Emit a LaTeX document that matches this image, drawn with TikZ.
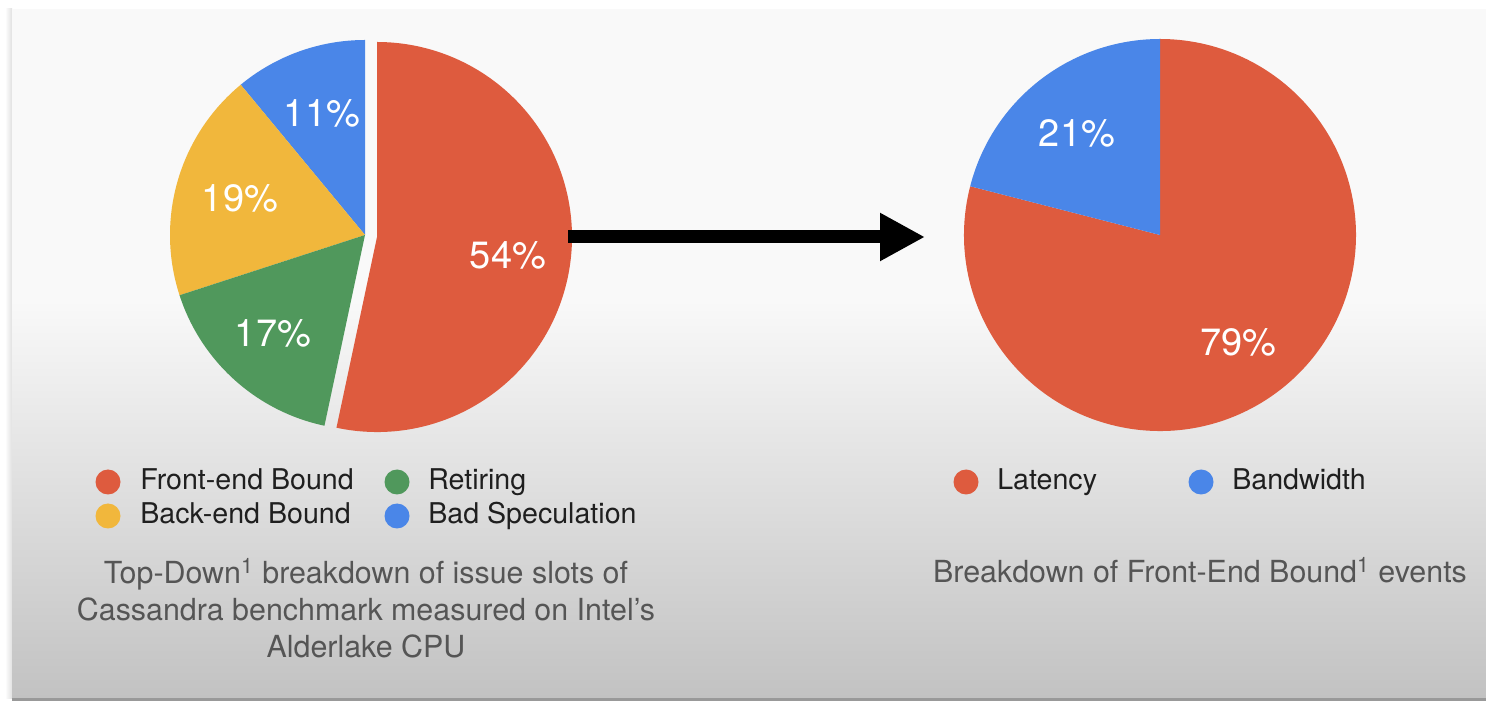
\documentclass[tikz,border=0pt]{standalone}
\usepackage{fontspec}
\setmainfont{TeX Gyre Heros}
\usetikzlibrary{arrows.meta}
\usetikzlibrary{positioning}
\definecolor{pred}{RGB}{222,91,62}
\definecolor{pblue}{RGB}{74,134,232}
\definecolor{pyellow}{RGB}{241,183,60}
\definecolor{pgreen}{RGB}{80,152,92}
\definecolor{slidetop}{RGB}{249,249,249}
\definecolor{slidebot}{RGB}{194,194,194}
\definecolor{capgray}{RGB}{85,85,85}
\tikzset{pct/.style = {text=white, inner sep=0, font=\fontsize{19}{22}\selectfont}}
\tikzset{legdot/.style = {circle, inner sep=0, minimum size=12.5pt}}
\tikzset{legtext/.style = {anchor=west, inner sep=0, text height=0.9em, text depth=0.18em, text=black!88, font=\fontsize{14.3}{17}\selectfont}}
\tikzset{caption/.style = {align=center, inner sep=0, text=capgray, font=\fontsize{15.2}{18.5}\selectfont}}

\begin{document}
\begin{tikzpicture}[x=0.5pt,y=0.5pt]
        \useasboundingbox (0,0) rectangle (1486,701);
        % slide background
        \fill[white] (0,0) rectangle (1486,701);
        \shade[left color=white, right color=black!12] (5,3) rectangle (12,692);
        \fill[slidetop] (12,3) rectangle (1486,692);
        \shade[top color=slidetop, bottom color=slidebot] (12,3) rectangle (1486,401);
        \fill[black!40] (12,0) rectangle (1486,3);
        % left pie
        \coordinate (lpie) at (365,466);
        \coordinate (lred) at (377,464);
        \fill[pblue] (lpie) -- ++(90:195) arc (90:129.6:195) -- cycle;
        \fill[pyellow] (lpie) -- ++(129.6:195) arc (129.6:198:195) -- cycle;
        \fill[pgreen] (lpie) -- ++(198:195) arc (198:258:195) -- cycle;
        \fill[pred] (lred) -- ++(-102:195) arc (-102:90:195) -- cycle;
        \node[pct] (bad) at (322,588) {11\%};
        \node[pct] (back) at (240,503) {19\%};
        \node[pct] (ret) at (273,368) {17\%};
        \node[pct] (front) at (508,446) {54\%};
        % right pie
        \coordinate (rpie) at (1160,466);
        \fill[pred] (rpie) -- ++(165.6:196) arc (165.6:450:196) -- cycle;
        \fill[pblue] (rpie) -- ++(90:196) arc (90:165.6:196) -- cycle;
        \node[pct] (bw) at (1077,568) {21\%};
        \node[pct] (lat) at (1238,359) {79\%};
        % arrow
        \coordinate (arrS) at (568,464);
        \coordinate (arrE) at (925,464);
        \draw[line width=6.5pt, -{Triangle[length=22.5pt,width=22.5pt]}] (arrS) -- (arrE);
        % legends
        \node[legdot, fill=pred] (dfront) at (108,219) {};
        \node[legdot, fill=pyellow] (dback) at (108,185) {};
        \node[legdot, fill=pgreen] (dret) at (397,219) {};
        \node[legdot, fill=pblue] (dbad) at (397,185) {};
        \node[legtext, right=9.5pt of dfront] (tfront) {Front-end Bound};
        \node[legtext, right=9.5pt of dback] (tback) {Back-end Bound};
        \node[legtext, right=9pt of dret] (tret) {Retiring};
        \node[legtext, right=9pt of dbad] (tbad) {Bad Speculation};
        \node[legdot, fill=pred] (dlat) at (966,219) {};
        \node[legdot, fill=pblue] (dbw) at (1201,219) {};
        \node[legtext, right=9pt of dlat] (tlat) {Latency};
        \node[legtext, right=9pt of dbw] (tbw) {Bandwidth};
        % captions
        \node[caption] (capL) at (366,93) {Top-Down\textsuperscript{1} breakdown of issue slots of\\Cassandra benchmark measured on Intel’s\\Alderlake CPU};
        \node[caption] (capR) at (1200,131) {Breakdown of Front-End Bound\textsuperscript{1} events};
    \end{tikzpicture}
\end{document}
